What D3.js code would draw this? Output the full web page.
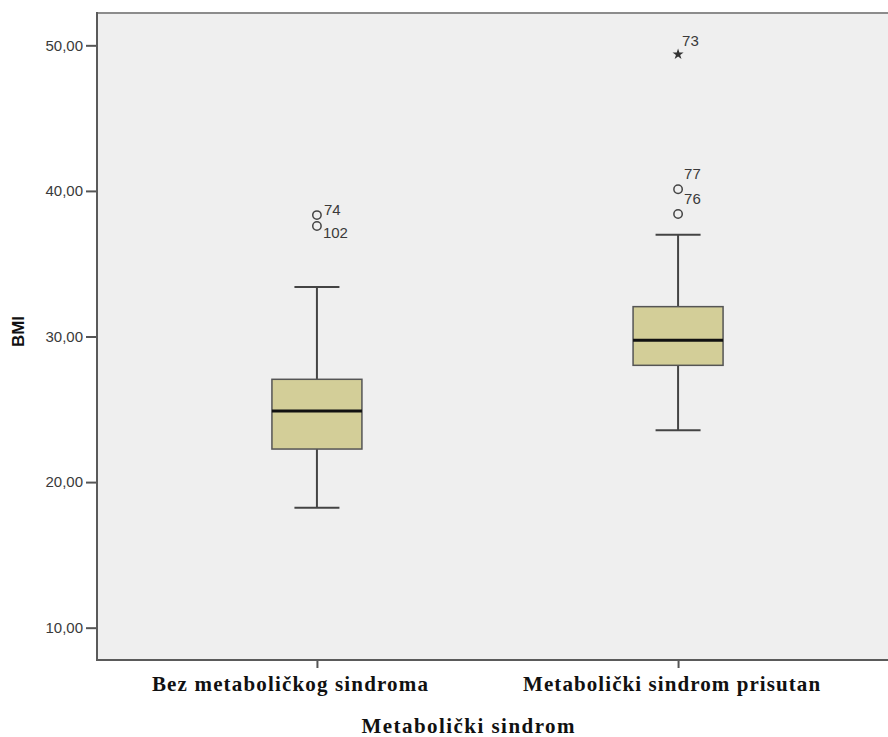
<!DOCTYPE html>
<html>
<head>
<meta charset="utf-8">
<script src="https://cdn.jsdelivr.net/npm/d3@7.9.0/dist/d3.min.js"></script>
<style>
  html, body { margin: 0; padding: 0; background: #fff; }
  svg { display: block; }
  .tick-label { font-family: "Liberation Sans", Arial, sans-serif; font-size: 15px; fill: #3a3a3a; }
  .cat-label { font-family: "Liberation Serif", "Times New Roman", serif; font-size: 21px; font-weight: bold; fill: #111; }
  .out-label { font-family: "Liberation Sans", Arial, sans-serif; font-size: 15px; fill: #3a3a3a; }
</style>
</head>
<body>
<div id="chart"></div>
<script>
const categories = ["Bez metaboličkog sindroma", "Metabolički sindrom prisutan"];
const whiskerLow = [18.24, 23.56];
const q1 = [22.27, 28.02];
const median = [24.88, 29.74];
const q3 = [27.06, 32.05];
const whiskerHigh = [33.40, 36.99];

const outlierCat = [0, 0, 1, 1, 1];
const outlierId = ["74", "102", "73", "77", "76"];
const outlierValue = [38.34, 37.59, 49.38, 40.11, 38.41];
const outlierKind = ["circle", "circle", "star", "circle", "circle"];

const yTicks = [10, 20, 30, 40, 50];
const yTitle = "BMI";
const xTitle = "Metabolički sindrom";

const W = 888, H = 737;
const plot = { left: 97, top: 13, right: 898, bottom: 660 };

// label nudges (px) so they do not collide, as in the original output
const labelNudge = { "74": [7, 0], "102": [6, 12], "73": [4, -8], "77": [6, -10], "76": [6, -10] };
const catLabel = [{ dx: -27, len: 276 }, { dx: -6.5, len: 297 }];

const svg = d3.select("#chart").append("svg")
  .attr("width", W)
  .attr("height", H);

const y = d3.scaleLinear()
  .domain([7.78, 52.22])
  .range([plot.bottom, plot.top]);

const x = d3.scalePoint()
  .domain(categories)
  .range([plot.left, plot.right])
  .padding(0.609);

const fmt = v => d3.format(".2f")(v).replace(".", ",");

// plot background
svg.append("rect")
  .attr("x", plot.left)
  .attr("y", plot.top)
  .attr("width", plot.right - plot.left)
  .attr("height", plot.bottom - plot.top)
  .attr("fill", "#efefef");

svg.append("line")
  .attr("x1", plot.left).attr("x2", plot.right)
  .attr("y1", plot.top).attr("y2", plot.top)
  .attr("stroke", "#8c8c8c").attr("stroke-width", 2);

// y axis
const yAxis = svg.append("g")
  .attr("transform", `translate(${plot.left},0)`)
  .call(d3.axisLeft(y).tickValues(yTicks).tickSize(11).tickPadding(3).tickFormat(fmt));
yAxis.select(".domain").remove();
yAxis.selectAll(".tick line").attr("stroke", "#555").attr("stroke-width", 2);
yAxis.selectAll(".tick text").attr("class", "tick-label").attr("font-size", null).attr("font-family", null).attr("fill", null);

svg.append("line")
  .attr("x1", plot.left).attr("x2", plot.left)
  .attr("y1", plot.top - 1).attr("y2", plot.bottom + 1)
  .attr("stroke", "#5a5a5a").attr("stroke-width", 2);

// x axis
const xAxis = svg.append("g")
  .attr("transform", `translate(0,${plot.bottom})`)
  .call(d3.axisBottom(x).tickSize(8).tickFormat(""));
xAxis.select(".domain").remove();
xAxis.selectAll(".tick line").attr("stroke", "#555").attr("stroke-width", 2);

svg.append("line")
  .attr("x1", plot.left - 1).attr("x2", plot.right)
  .attr("y1", plot.bottom).attr("y2", plot.bottom)
  .attr("stroke", "#5a5a5a").attr("stroke-width", 2);

svg.selectAll("text.cat-label")
  .data(categories)
  .join("text")
  .attr("class", "cat-label")
  .attr("x", (d, i) => x(d) + catLabel[i].dx)
  .attr("y", 691)
  .attr("text-anchor", "middle")
  .attr("textLength", (d, i) => catLabel[i].len)
  .attr("lengthAdjust", "spacing")
  .text(d => d);

svg.append("text")
  .attr("class", "cat-label")
  .attr("x", 468)
  .attr("y", 733)
  .attr("text-anchor", "middle")
  .attr("textLength", 213)
  .attr("lengthAdjust", "spacing")
  .text(xTitle);

svg.append("text")
  .attr("transform", "translate(24,331.5) rotate(-90)")
  .attr("text-anchor", "middle")
  .attr("font-family", "'Liberation Sans', Arial, sans-serif")
  .attr("font-weight", "bold")
  .attr("font-size", 17)
  .attr("fill", "#111")
  .text(yTitle);

// boxes
const boxW = 90, capW = 45;
const boxes = categories.map((c, i) => ({
  c, lo: whiskerLow[i], q1: q1[i], med: median[i], q3: q3[i], hi: whiskerHigh[i]
}));

const bg = svg.selectAll("g.box")
  .data(boxes)
  .join("g")
  .attr("class", "box")
  .attr("transform", d => `translate(${x(d.c)},0)`);

bg.append("line")
  .attr("x1", 0).attr("x2", 0)
  .attr("y1", d => y(d.hi)).attr("y2", d => y(d.q3))
  .attr("stroke", "#444").attr("stroke-width", 2);
bg.append("line")
  .attr("x1", 0).attr("x2", 0)
  .attr("y1", d => y(d.q1)).attr("y2", d => y(d.lo))
  .attr("stroke", "#444").attr("stroke-width", 2);
bg.append("line")
  .attr("x1", -capW / 2).attr("x2", capW / 2)
  .attr("y1", d => y(d.hi)).attr("y2", d => y(d.hi))
  .attr("stroke", "#444").attr("stroke-width", 2);
bg.append("line")
  .attr("x1", -capW / 2).attr("x2", capW / 2)
  .attr("y1", d => y(d.lo)).attr("y2", d => y(d.lo))
  .attr("stroke", "#444").attr("stroke-width", 2);
bg.append("rect")
  .attr("x", -boxW / 2)
  .attr("width", boxW)
  .attr("y", d => y(d.q3))
  .attr("height", d => y(d.q1) - y(d.q3))
  .attr("fill", "#d3ce98")
  .attr("stroke", "#555")
  .attr("stroke-width", 1.5);
bg.append("line")
  .attr("x1", -boxW / 2).attr("x2", boxW / 2)
  .attr("y1", d => y(d.med)).attr("y2", d => y(d.med))
  .attr("stroke", "#111").attr("stroke-width", 3);

// outliers
const outs = outlierId.map((id, i) => ({
  id, c: categories[outlierCat[i]], v: outlierValue[i], kind: outlierKind[i]
}));

svg.selectAll("circle.out")
  .data(outs.filter(d => d.kind === "circle"))
  .join("circle")
  .attr("class", "out")
  .attr("cx", d => x(d.c))
  .attr("cy", d => y(d.v))
  .attr("r", 4.2)
  .attr("fill", "none")
  .attr("stroke", "#444")
  .attr("stroke-width", 1.5);

svg.selectAll("path.extreme")
  .data(outs.filter(d => d.kind === "star"))
  .join("path")
  .attr("class", "extreme")
  .attr("d", d3.symbol(d3.symbolStar, 38))
  .attr("transform", d => `translate(${x(d.c)},${y(d.v)})`)
  .attr("fill", "#333");

svg.selectAll("text.out-label")
  .data(outs)
  .join("text")
  .attr("class", "out-label")
  .attr("x", d => x(d.c) + labelNudge[d.id][0])
  .attr("y", d => y(d.v) + labelNudge[d.id][1])
  .text(d => d.id);
</script>
</body>
</html>
